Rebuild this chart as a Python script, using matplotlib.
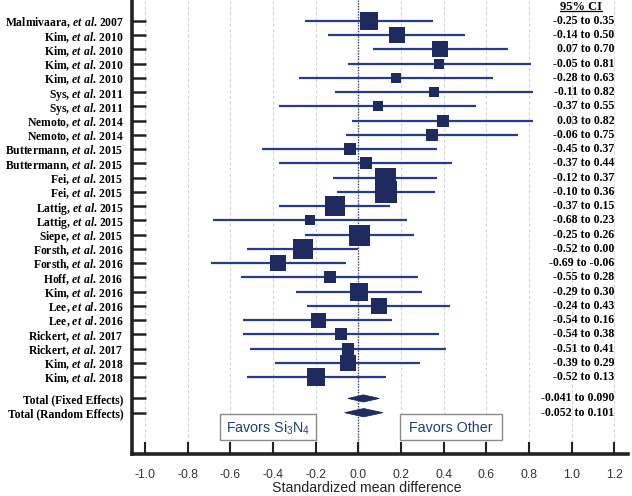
import matplotlib
matplotlib.use("Agg")
import matplotlib.pyplot as plt
from matplotlib.patches import Rectangle, Polygon

plt.rcParams['mathtext.fontset'] = 'custom'
plt.rcParams['mathtext.rm'] = 'Liberation Sans'
plt.rcParams['mathtext.sf'] = 'Liberation Sans'
plt.rcParams['mathtext.bfit'] = 'Liberation Serif:italic:bold'

authors = ["Malmivaara", "Kim", "Kim", "Kim", "Kim", "Sys", "Sys", "Nemoto", "Nemoto",
           "Buttermann", "Buttermann", "Fei", "Fei", "Lattig", "Lattig", "Siepe",
           "Forsth", "Forsth", "Hoff", "Kim", "Lee", "Lee", "Rickert", "Rickert",
           "Kim", "Kim"]
years = [2007, 2010, 2010, 2010, 2010, 2011, 2011, 2014, 2014, 2015, 2015, 2015, 2015,
         2015, 2015, 2015, 2016, 2016, 2016, 2016, 2016, 2016, 2017, 2017, 2018, 2018]
means = [0.05, 0.18, 0.385, 0.38, 0.175, 0.355, 0.09, 0.395, 0.345, -0.04, 0.035, 0.125,
         0.13, -0.11, -0.225, 0.005, -0.26, -0.375, -0.135, 0.005, 0.095, -0.19, -0.08,
         -0.05, -0.05, -0.20]
lower = [-0.25, -0.14, 0.07, -0.05, -0.28, -0.11, -0.37, -0.03, -0.06, -0.45, -0.37, -0.12,
         -0.10, -0.37, -0.68, -0.25, -0.52, -0.69, -0.55, -0.29, -0.24, -0.54, -0.54, -0.51,
         -0.39, -0.52]
upper = [0.35, 0.50, 0.70, 0.81, 0.63, 0.82, 0.55, 0.82, 0.75, 0.37, 0.44, 0.37, 0.36,
         0.15, 0.23, 0.26, 0.00, -0.06, 0.28, 0.30, 0.43, 0.16, 0.38, 0.41, 0.29, 0.13]
ci_labels = ["-0.25 to 0.35", "-0.14 to 0.50", "0.07 to 0.70", "-0.05 to 0.81",
             "-0.28 to 0.63", "-0.11 to 0.82", "-0.37 to 0.55", "0.03 to 0.82",
             "-0.06 to 0.75", "-0.45 to 0.37", "-0.37 to 0.44", "-0.12 to 0.37",
             "-0.10 to 0.36", "-0.37 to 0.15", "-0.68 to 0.23", "-0.25 to 0.26",
             "-0.52 to 0.00", "-0.69 to -0.06", "-0.55 to 0.28", "-0.29 to 0.30",
             "-0.24 to 0.43", "-0.54 to 0.16", "-0.54 to 0.38", "-0.51 to 0.41",
             "-0.39 to 0.29", "-0.52 to 0.13"]
# square sizes (relative weights, px)
weights = [17.7, 16.3, 15.7, 10.7, 10.7, 9.7, 10.7, 11.3, 11.7, 11.3, 11.7, 21, 22, 20,
           10.7, 21, 20, 16.3, 11.7, 18.3, 16.7, 15, 11.3, 11.3, 15.7, 17.3]

total_labels = ["Total (Fixed Effects)", "Total (Random Effects)"]
total_mean = [0.024, 0.025]
total_lower = [-0.048, -0.064]
total_upper = [0.098, 0.115]
total_ci_labels = ["-0.041 to 0.090", "-0.052 to 0.101"]

xticks = [-1.0, -0.8, -0.6, -0.4, -0.2, 0.0, 0.2, 0.4, 0.6, 0.8, 1.0, 1.2]

navy_line = '#283a8c'
navy_sq = '#1f2a5e'
serif = 'Liberation Serif'

fig = plt.figure(figsize=(6.32, 4.96), dpi=100)
ax = fig.add_axes([132/632, (496-454)/496, (628-132)/632, 454/496])
ax.set_xlim(-1.061, 1.264)
ax.set_ylim(30.4, -1.475)

n = len(means)
ys = list(range(n))
ys_tot = [n + 0.5, n + 1.5]

# grid
for xt in xticks:
    ax.axvline(xt, color='#d4d4d4', lw=0.8, ls=(0, (3, 2)), zorder=0)
ax.axvline(0, color='#3a4a8a', lw=1.0, ls=(0, (1, 1)), zorder=1)

for y, m, lo, hi, w in zip(ys, means, lower, upper, weights):
    ax.plot([lo, hi], [y, y], color=navy_line, lw=1.6, solid_capstyle='butt', zorder=2)
    ax.plot([m], [y], marker='s', ms=w * 0.72, color=navy_sq, mec=navy_sq, mew=0, zorder=3)

for y, m, lo, hi, h in zip(ys_tot, total_mean, total_lower, total_upper, [0.25, 0.29]):
    ax.add_patch(Polygon([[lo, y], [m, y - h], [hi, y], [m, y + h]], closed=True,
                         facecolor=navy_sq, edgecolor=navy_sq, lw=0.6, zorder=3))

# y tick labels
ylabels = [r"%s, $\mathbfit{et\ al}$. %d" % (a, yr) for a, yr in zip(authors, years)]
ax.set_yticks(ys + ys_tot)
ax.set_yticklabels(ylabels + total_labels, fontfamily=serif, fontweight='bold', fontsize=8.4)
ax.tick_params(axis='y', direction='in', length=10, width=1.8, color='#222222', pad=6)

ax.set_xticks(xticks)
ax.set_xticklabels(["%.1f" % v for v in xticks], fontfamily='Liberation Sans', fontsize=8.8,
                   color='#333333')
ax.tick_params(axis='x', direction='in', length=9, width=1.5, color='#222222', pad=11)
ax.set_xlabel("Standardized mean difference", fontfamily='Liberation Sans', fontsize=10.2,
              color='#222222')
ax.xaxis.set_label_coords((366.5 - 132) / 496, -0.06)

for s in ['top', 'right']:
    ax.spines[s].set_visible(False)
for s in ['left', 'bottom']:
    ax.spines[s].set_linewidth(2.6)
    ax.spines[s].set_color('#222222')

# CI column
xr = 1.199
for y, lab in zip(ys, ci_labels):
    ax.text(xr, y, lab, ha='right', va='center', fontfamily=serif, fontweight='bold',
            fontsize=8.6, zorder=4)
for y, lab in zip(ys_tot, total_ci_labels):
    ax.text(xr, y, lab, ha='right', va='center', fontfamily=serif, fontweight='bold',
            fontsize=8.6, zorder=4)
hdr = ax.text(1.044, -0.95, "95% CI", ha='center', va='center', fontfamily=serif,
              fontweight='bold', fontsize=9, zorder=4)
fig.canvas.draw()
bb = hdr.get_window_extent().transformed(ax.transData.inverted())
ax.plot([bb.x0, bb.x1], [-0.67, -0.67], color='black', lw=0.9, clip_on=False, zorder=4)

# favors boxes
box_y0, box_y1 = 27.6, 29.43
for x0, x1, txt in [(-0.649, -0.2, r"Favors Si$_{\mathsf{3}}$N$_{\mathsf{4}}$"),
                    (0.195, 0.672, "Favors Other")]:
    ax.add_patch(Rectangle((x0, box_y0), x1 - x0, box_y1 - box_y0, facecolor='white',
                           edgecolor='#8a8a8a', lw=1.0, zorder=4))
    ax.text((x0 + x1) / 2, (box_y0 + box_y1) / 2 + 0.05, txt, ha='center', va='center',
            fontfamily='Liberation Sans', fontsize=10.3, color='#1f3f78', zorder=5)

fig.savefig("out.png", dpi=100)
